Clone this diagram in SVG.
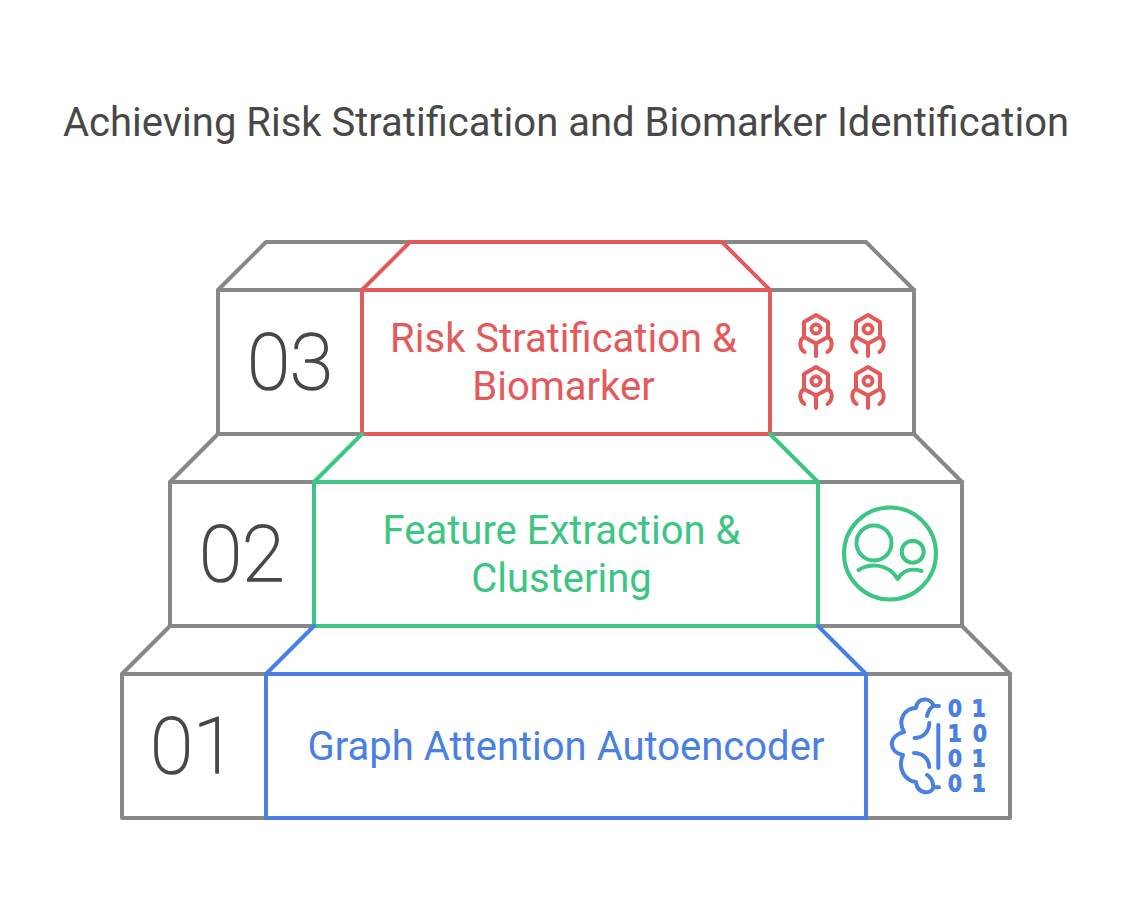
<svg xmlns="http://www.w3.org/2000/svg" width="1132" height="916" viewBox="0 0 1132 916">
<style>
.g{fill:none;stroke:#888;stroke-width:4;stroke-linejoin:round;stroke-linecap:round}
.c{fill:none;stroke-width:4;stroke-linejoin:round;stroke-linecap:round}
.t{font-family:Roboto,"Liberation Sans",sans-serif;text-anchor:middle}
.n{font-size:78px;font-weight:100;fill:#484848;stroke:#484848;stroke-width:1.7;stroke-linejoin:round}
.l{font-size:40px}
.d{font-family:"DejaVu Sans",sans-serif;font-size:21px;fill:#4a80e4;stroke:#4a80e4;stroke-width:2.2;text-anchor:middle}
</style>
<defs>
<g id="bot">
<path d="M0 -15 L12 -8 V7 L0 13.5 L-12 7 V-8 Z"/>
<circle cx="0" cy="-1" r="4.5"/>
<path d="M0 13.5 V26"/>
<path d="M-12 7 C-17 10 -17 18 -11.5 22"/>
<path d="M12 7 C17 10 17 18 11.5 22"/>
</g>
</defs>
<rect width="1132" height="916" fill="#fff"/>
<text class="t" x="566" y="136" font-size="40" fill="#484848">Achieving Risk Stratification and Biomarker Identification</text>
<g id="connectors">
<path class="g" d="M218 290 L266 242 H866 L914 290"/>
<path class="g" d="M170 482 L218 434 M914 434 L962 482"/>
<path class="g" d="M122 674 L170 626 M962 626 L1010 674"/>
</g>
<g id="node-03">
<rect class="g" x="218" y="290" width="696" height="144"/>
<path class="c" stroke="#e35a5a" d="M362 290 L410 242 H722 L770 290"/>
<rect class="c" stroke="#e35a5a" x="362" y="290" width="408" height="144"/>
<text class="t n" x="290" y="389">03</text>
<text class="t l" x="563.5" y="352" fill="#e35a5a">Risk Stratification &amp;</text>
<text class="t l" x="563.5" y="400" fill="#e35a5a">Biomarker</text>
<g class="c" stroke="#e35a5a">
<use href="#bot" x="816" y="330"/>
<use href="#bot" x="868" y="330"/>
<use href="#bot" x="816" y="382"/>
<use href="#bot" x="868" y="382"/>
</g>
</g>
<g id="node-02">
<rect class="g" x="170" y="482" width="792" height="144"/>
<path class="c" stroke="#3cc583" d="M314 482 L362 434 M770 434 L818 482"/>
<rect class="c" stroke="#3cc583" x="314" y="482" width="504" height="144"/>
<text class="t n" x="242" y="581">02</text>
<text class="t l" x="561.5" y="544" fill="#3cc583">Feature Extraction &amp;</text>
<text class="t l" x="561.5" y="592" fill="#3cc583">Clustering</text>
<g class="c" stroke="#3cc583">
<circle cx="890" cy="553.5" r="46"/>
<circle cx="874" cy="543" r="17.5"/>
<circle cx="912.7" cy="551.7" r="11"/>
<path d="M858.5 570 C870 563 888 563 897.7 579 C903 570 912 568 921.5 571"/>
</g>
</g>
<g id="node-01">
<rect class="g" x="122" y="674" width="888" height="144"/>
<path class="c" stroke="#4a80e4" d="M266 674 L314 626 M818 626 L866 674"/>
<rect class="c" stroke="#4a80e4" x="266" y="674" width="600" height="144"/>
<text class="t n" x="193" y="773">01</text>
<text class="t l" x="566" y="760" fill="#4a80e4">Graph Attention Autoencoder</text>
<g class="c" stroke="#4a80e4">
<path d="M939 706 L933.5 705.7 C931 697 917 697 916 708 C905 708 897 720 904 732 C888 736 888 752 903 755 C897 768 905 781 916 782 C917 794 931 795 933.5 787.3 L939 787.3"/>
<path d="M927 716 C928 712 930 708 933.5 705.7"/>
<path d="M929.3 723 C929 732 923 738 914.5 738"/>
<path d="M914 753 C923 753 929 759 929.3 767"/>
<path d="M927 775 C931 777 933 782 933.5 787"/>
<path d="M938.3 725 V768"/>
</g>
<text class="d" x="955" y="716">0</text><text class="d" x="979" y="716">1</text>
<text class="d" x="955" y="741">1</text><text class="d" x="980" y="741">0</text>
<text class="d" x="955" y="766">0</text><text class="d" x="979" y="766">1</text>
<text class="d" x="955" y="791">0</text><text class="d" x="979" y="791">1</text>
</g>
</svg>
